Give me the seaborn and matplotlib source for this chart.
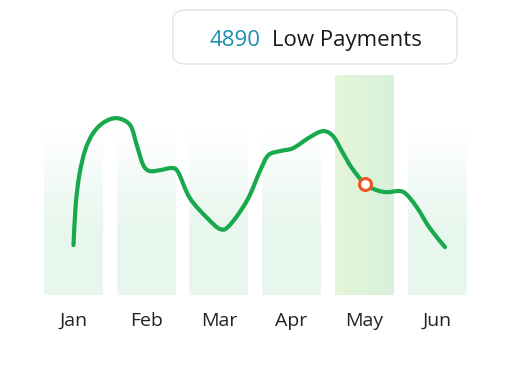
import numpy as np
import pandas as pd
import matplotlib
matplotlib.use("Agg")
import matplotlib.pyplot as plt
from matplotlib.patches import FancyBboxPatch, PathPatch
from matplotlib.path import Path
import seaborn as sns

# ---- data ----
months = ["Jan", "Feb", "Mar", "Apr", "May", "Jun"]
bar_values = [7300, 7300, 7300, 7300, 9700, 7300]
highlight_month = "May"

curve_x = [0.00, 0.03, 0.08, 0.16, 0.27, 0.42, 0.60, 0.78, 0.87, 0.96, 1.05, 1.19,
           1.35, 1.44, 1.60, 1.84, 2.02, 2.15, 2.39, 2.57, 2.68, 2.84, 3.02, 3.25,
           3.43, 3.57, 3.70, 3.83, 4.01, 4.17, 4.31, 4.49, 4.59, 4.73, 4.90, 5.11]
curve_y = [2200, 3960, 5280, 6380, 7130, 7610, 7790, 7480, 6600, 5720, 5460, 5500,
           5590, 5410, 4270, 3390, 2900, 3080, 4180, 5500, 6160, 6340, 6470, 6950,
           7220, 7000, 6290, 5590, 4890, 4620, 4530, 4580, 4400, 3830, 2950, 2110]

marker_x = [4.01]
marker_y = [4890]
tooltip_value = "4890"
tooltip_label = "Low Payments"

# ---- style ----
sns.set_theme(style="white")
plt.rcParams["font.family"] = ["Open Sans", "DejaVu Sans"]

W, H = 511, 371
fig = plt.figure(figsize=(W / 100, H / 100), dpi=100)
fig.patch.set_facecolor("white")
ax = fig.add_axes([44 / W, (H - 295) / H, (467 - 44) / W, (295 - 68) / H])
ax.set_facecolor("white")

bars_df = pd.DataFrame({"month": months, "value": bar_values})
sns.barplot(data=bars_df, x="month", y="value", ax=ax, color="#e8f7ee",
            width=0.81, errorbar=None, linewidth=0, saturation=1)

# gradient fills
for patch, m in zip(ax.patches, months):
    x0, y0 = patch.get_x(), patch.get_y()
    w, h = patch.get_width(), patch.get_height()
    if m == highlight_month:
        c1 = np.array([0xe4, 0xf6, 0xd8]) / 255
        c2 = np.array([0xd8, 0xf1, 0xdc]) / 255
        t = np.linspace(0, 1, 64)[None, :, None]
        rgb = c1 * (1 - t) + c2 * t
        img = np.concatenate([rgb, np.ones((1, 64, 1))], axis=2)
    else:
        c = np.array([0xe8, 0xf7, 0xee]) / 255
        t = np.linspace(0, 1, 128)  # 0 bottom -> 1 top
        alpha = np.clip((1 - t) / 0.6, 0, 1)
        img = np.zeros((128, 1, 4))
        img[:, 0, :3] = c
        img[:, 0, 3] = alpha
        img = img[::-1]
    patch.set_facecolor("none")
    im = ax.imshow(img, extent=[x0, x0 + w, y0, y0 + h], aspect="auto",
                   interpolation="bilinear", zorder=1)
    im.set_clip_path(patch)

line_df = pd.DataFrame({"x": curve_x, "y": curve_y})
sns.lineplot(data=line_df, x="x", y="y", ax=ax, color="#17a94b", linewidth=3.0,
             sort=False, zorder=3)

# render the seaborn line as a smooth (Catmull-Rom style) Bezier curve
line = ax.lines[-1]
pts = np.column_stack(line.get_data())
n = len(pts)
verts = [pts[0]]
codes = [Path.MOVETO]
for i in range(n - 1):
    p0 = pts[i - 1] if i > 0 else pts[i]
    p1 = pts[i]
    p2 = pts[i + 1]
    p3 = pts[i + 2] if i + 2 < n else pts[i + 1]
    c1 = p1 + (p2 - p0) / 6.0
    c2 = p2 - (p3 - p1) / 6.0
    verts += [c1, c2, p2]
    codes += [Path.CURVE4] * 3
smooth = PathPatch(Path(verts, codes), facecolor="none", edgecolor=line.get_color(),
                   linewidth=line.get_linewidth(), capstyle="round",
                   joinstyle="round", zorder=3, transform=ax.transData)
ax.add_patch(smooth)
line.set_visible(False)

mk_df = pd.DataFrame({"x": marker_x, "y": marker_y})
sns.scatterplot(data=mk_df, x="x", y="y", ax=ax, s=74, color="white",
                edgecolor="#f05423", linewidth=2.2, zorder=4)

ax.set_xlim((44 - 73.5) / 72.7, (467 - 73.5) / 72.7)
ax.set_ylim(0, 10000)
ax.set_xticks(range(len(months)))
ax.set_xticklabels(months, fontsize=14, color="#222222")
ax.tick_params(axis="x", length=0, pad=12)
ax.set_yticks([])
ax.set_xlabel("")
ax.set_ylabel("")
for s in ax.spines.values():
    s.set_visible(False)

# tooltip
box = FancyBboxPatch((173 / W, (H - 64) / H), (457 - 173) / W, (64 - 10) / H,
                     boxstyle="round,pad=0,rounding_size=0.025",
                     transform=fig.transFigure, facecolor="white",
                     edgecolor="#e3e3e3", linewidth=1.0, zorder=10)
fig.patches.append(box)
fig.text(209 / W, (H - 46) / H, tooltip_value, color="#1a8fb0", fontsize=16,
         va="baseline", ha="left", zorder=11)
fig.text(272 / W, (H - 46) / H, tooltip_label, color="#1a1a1a", fontsize=16,
         va="baseline", ha="left", zorder=11)

fig.savefig("out.png", dpi=100, facecolor="white")
